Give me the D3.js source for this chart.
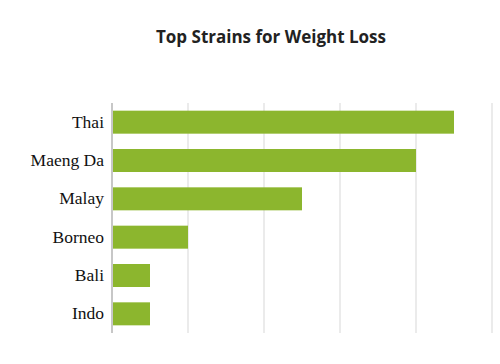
<!DOCTYPE html>
<html>
<head>
<meta charset="utf-8">
<script src="https://cdn.jsdelivr.net/npm/d3@7"></script>
<style>
  body { margin: 0; background: #fff; }
</style>
</head>
<body>
<div id="chart"></div>
<script>
// data
const STRAINS = ["Thai", "Maeng Da", "Malay", "Borneo", "Bali", "Indo"];
const SCORES = [4.5, 4, 2.5, 1, 0.5, 0.5];
const X_TICKS = [0, 1, 2, 3, 4, 5];

const FRAME_WIDTH = 500;
const FRAME_HEIGHT = 364;
const MARGINS = {left: 112, right: 8, top: 103, bottom: 31};

const VIS_WIDTH = FRAME_WIDTH - MARGINS.left - MARGINS.right;
const VIS_HEIGHT = FRAME_HEIGHT - MARGINS.top - MARGINS.bottom;

const svg = d3.select("#chart")
  .append("svg")
    .attr("width", FRAME_WIDTH)
    .attr("height", FRAME_HEIGHT);

// title
svg.append("text")
    .attr("x", 271)
    .attr("y", 43)
    .attr("text-anchor", "middle")
    .attr("font-family", "Open Sans")
    .attr("font-weight", "bold")
    .attr("font-size", 17)
    .attr("fill", "#222")
    .text("Top Strains for Weight Loss");

const g = svg.append("g")
    .attr("transform", "translate(" + MARGINS.left + "," + MARGINS.top + ")");

const x = d3.scaleLinear()
    .domain([0, 5])
    .range([0, VIS_WIDTH]);

const y = d3.scaleBand()
    .domain(STRAINS)
    .range([0, VIS_HEIGHT])
    .paddingInner(0.4)
    .paddingOuter(0.2);

// vertical grid lines
g.append("g")
  .selectAll("line")
  .data(X_TICKS)
  .enter()
  .append("line")
    .attr("x1", (d) => x(d))
    .attr("x2", (d) => x(d))
    .attr("y1", 0)
    .attr("y2", VIS_HEIGHT)
    .attr("stroke", (d) => d === 0 ? "#b5b5b5" : "#e4e4e4")
    .attr("stroke-width", 1.5);

// bars
g.append("g")
  .selectAll("rect")
  .data(STRAINS)
  .enter()
  .append("rect")
    .attr("x", x(0) + 1)
    .attr("y", (d) => y(d))
    .attr("width", (d, i) => x(SCORES[i]) - x(0) - 1)
    .attr("height", y.bandwidth())
    .attr("fill", "#8cb62e");

// category labels
const yAxis = g.append("g")
    .call(d3.axisLeft(y).tickSize(0).tickPadding(8));
yAxis.select(".domain").remove();
yAxis.selectAll("text")
    .attr("font-family", "Liberation Serif")
    .attr("font-size", 17.5)
    .attr("fill", "#111");
</script>
</body>
</html>
